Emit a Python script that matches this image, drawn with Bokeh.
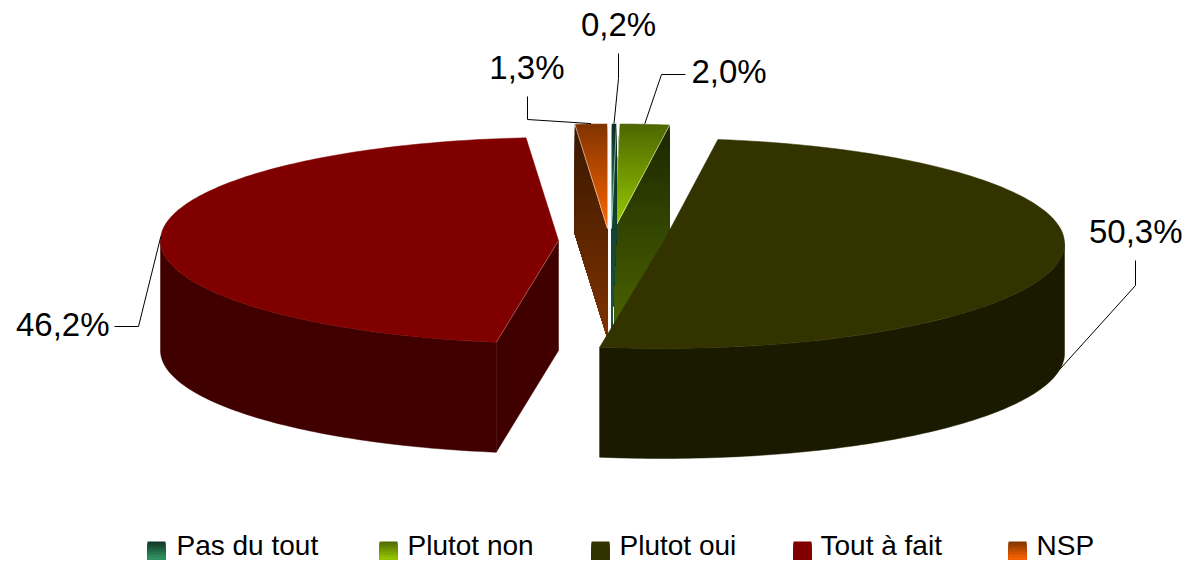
import math
from bokeh.embed import file_html
from bokeh.resources import INLINE
from bokeh.plotting import figure
from bokeh.models import Range1d
from bokeh.core.properties import value

categories = ["Pas du tout", "Plutot non", "Plutot oui", "Tout à fait", "NSP"]
percent = [0.2, 2.0, 50.3, 46.2, 1.3]
value_labels = ["0,2%", "2,0%", "50,3%", "46,2%", "1,3%"]

# layout (page pixels)
W, H = 1188, 561
DEPTH = 110
centers = [(611, 228), (614, 228), (662, 243), (558, 240), (607, 228)]
radii = [(402, 105), (402, 105), (402, 105), (398, 103), (402, 105)]
top_grad = [("#0a2a20", "#339966"), ("#4d6600", "#99cc00"), None, None, ("#7f3300", "#ff6600")]
top_flat = [None, None, "#333300", "#800000", None]
side_grad = [("#0a2a20", "#1d5c48"), ("#1a2600", "#4d6600"), None, None, ("#381700", "#803300")]
side_flat = [None, None, "#1a1a00", "#400000", None]
swatch_x = [147, 379, 591, 793, 1008]
legend_text_x = [176, 407, 619, 820, 1036]
swatch_grad = [("#0f3325", "#339966"), ("#4d6600", "#99cc00"), ("#333300", "#333300"), ("#800000", "#800000"), ("#7f3300", "#ff6600")]
leader_mid = [[(618, 78), (618, 53)], [(661, 74), (685, 74)], [(1135, 285), (1135, 260)], [(138, 326), (114, 326)], [(527, 119), (527, 96)]]
label_pos = [(618, 24, "center"), (691, 71, "left"), (1182, 231, "right"), (109, 324, "right"), (564, 67, "right")]

p = figure(width=W, height=H, x_range=Range1d(0, W), y_range=Range1d(H, 0),
           x_axis_type=None, y_axis_type=None, toolbar_location=None,
           output_backend="svg", min_border=0, outline_line_color=None,
           background_fill_color="white", border_fill_color="white")
p.grid.visible = False
p.styles = {"position": "absolute", "left": "0px", "top": "0px"}


def hex2rgb(c):
    return tuple(int(c[i:i + 2], 16) for i in (1, 3, 5))


def mix(a, b, t):
    ra, rb = hex2rgb(a), hex2rgb(b)
    return "#%02x%02x%02x" % tuple(round(x + (y - x) * t) for x, y in zip(ra, rb))


def clip_below(poly, y0):
    out = []
    n = len(poly)
    for i in range(n):
        a, b = poly[i], poly[(i + 1) % n]
        ia, ib = a[1] >= y0, b[1] >= y0
        if ia:
            out.append(a)
        if ia != ib:
            t = (y0 - a[1]) / (b[1] - a[1])
            out.append((a[0] + (b[0] - a[0]) * t, y0))
    return out


def gradient(poly, c0, c1, steps=36):
    # painted from the top down, each band covering all that lies below it
    ys = [q[1] for q in poly]
    ya, yb = min(ys), max(ys)
    for k in range(steps):
        q = clip_below(poly, ya + (yb - ya) * k / steps)
        if len(q) >= 3:
            col = mix(c0, c1, (k + 0.5) / steps)
            p.patch([a for a, _ in q], [b for _, b in q], fill_color=col, line_color=None)


def pt(i, th, dy=0):
    c, (rx, ry) = centers[i], radii[i]
    return (c[0] + rx * math.sin(th), c[1] - ry * math.cos(th) + dy)


def arc(i, a, b, dy=0, step=math.radians(1.0)):
    n = max(2, int(abs(b - a) / step) + 1)
    return [pt(i, a + (b - a) * j / n, dy) for j in range(n + 1)]


# angles
angles = []
cum = 0.0
total = sum(percent)
for v in percent:
    a = cum / total * 2 * math.pi
    cum += v
    angles.append((a, cum / total * 2 * math.pi))

order = [4, 1, 0, 3, 2]
for i in order:
    c = centers[i]
    a, b = angles[i]
    top = [c] + arc(i, a, b)
    if side_flat[i]:
        col = side_flat[i]
        lo, hi = max(a, math.pi / 2), min(b, 3 * math.pi / 2)
        wall = arc(i, lo, hi) + arc(i, hi, lo, DEPTH)
        p.patch([q[0] for q in wall], [q[1] for q in wall], fill_color=col, line_color=col, line_width=0.5)
        if i == 3:  # cut face seen from the gap
            e = pt(i, a)
            face = [c, e, (e[0], e[1] + DEPTH), (c[0], c[1] + DEPTH)]
            p.patch([q[0] for q in face], [q[1] for q in face], fill_color=col, line_color=col, line_width=0.5)
        p.patch([q[0] for q in top], [q[1] for q in top], fill_color=top_flat[i], line_color=top_flat[i], line_width=0.5)
        if i == 3:
            p.line([c[0], e[0]], [c[1], e[1]], line_color="#b98080", line_width=0.6)
    else:
        edge = pt(i, a) if i == 4 else pt(i, b)
        face = [c, edge, (edge[0], edge[1] + DEPTH), (c[0], c[1] + DEPTH)]
        gradient(face, *side_grad[i])
        gradient(top, *top_grad[i])
        outline = top + [c]
        p.line([q[0] for q in outline], [q[1] for q in outline], line_color="#ffffff", line_width=0.7, line_alpha=0.75)

# leader lines, from the middle of each slice's edge
for i, mid in enumerate(leader_mid):
    th = sum(angles[i]) / 2
    anchor = pt(i, th, DEPTH if i == 2 else 0)
    path = [anchor] + mid
    p.line([q[0] for q in path], [q[1] for q in path], line_color="#000000", line_width=1)

for txt, (x, y, al) in zip(value_labels, label_pos):
    p.text([x], [y], text=[txt], text_font=value("Liberation Sans"), text_font_size="33px",
           text_color="#000000", text_align=al, text_baseline="middle")

for name, sx, tx, g in zip(categories, swatch_x, legend_text_x, swatch_grad):
    gradient([(sx, 541), (sx + 18, 541), (sx + 18, 559), (sx, 559)], *g, steps=12)
    p.text([tx], [545], text=[name], text_font=value("Liberation Sans"), text_font_size="28px",
           text_color="#000000", text_align="left", text_baseline="middle")

open("out.html", "w").write(file_html(p, INLINE))
